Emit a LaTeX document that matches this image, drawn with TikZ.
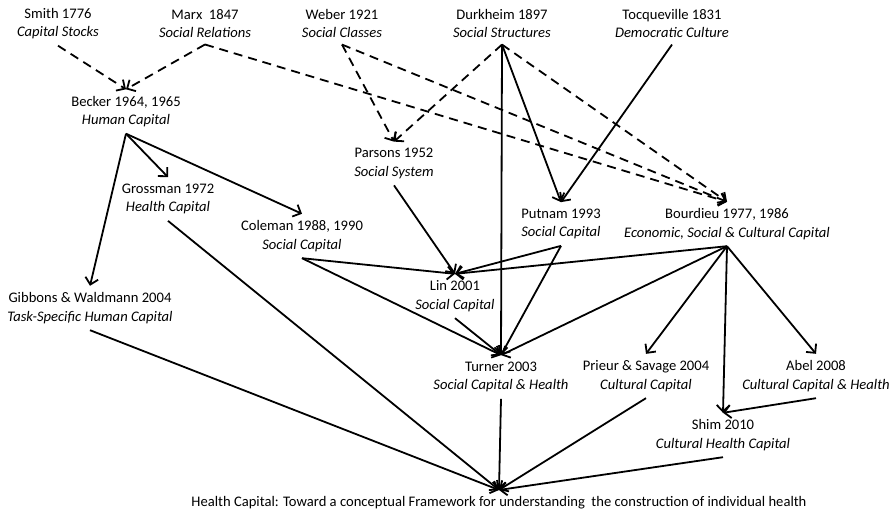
\documentclass[tikz,border=0pt]{standalone}
\usepackage{fontspec}
\setmainfont{Carlito}
\usetikzlibrary{arrows.meta}
\begin{document}
\begin{tikzpicture}[x=1pt,y=-1pt,
  lbl/.style={align=center, inner xsep=2pt, inner ysep=6.5pt, font=\fontsize{14.6}{18.5}\selectfont},
  conn/.style={line width=1.8pt, -{Straight Barb[length=6.5pt,width=13pt]}},
  dconn/.style={conn, dash pattern=on 9pt off 6pt}]
\useasboundingbox (0,0) rectangle (896,513);
\node[lbl] (smith) at (58,23.5) {Smith 1776\\\textit{Capital Stocks}};
\node[lbl] (marx) at (205,23.5) {Marx\ \ 1847\\\textit{Social Relations}};
\node[lbl] (weber) at (342,23.5) {Weber 1921\\\textit{Social Classes}};
\node[lbl] (durk) at (502,23.5) {Durkheim 1897\\\textit{Social Structures}};
\node[lbl] (tocq) at (672,23.5) {Tocqueville 1831\\\textit{Democratic Culture}};
\node[lbl] (becker) at (126,111.5) {Becker 1964, 1965\\\textit{Human Capital}};
\node[lbl] (parsons) at (394,163.5) {Parsons 1952\\\textit{Social System}};
\node[lbl] (gross) at (168,199) {Grossman 1972\\\textit{Health Capital}};
\node[lbl] (coleman) at (302,236) {Coleman 1988, 1990\\\textit{Social Capital}};
\node[lbl] (putnam) at (561,224) {Putnam 1993\\\textit{Social Capital}};
\node[lbl] (bourdieu) at (727,224) {Bourdieu 1977, 1986\\\textit{Economic, Social \& Cultural Capital}};
\node[lbl] (lin) at (455,296) {Lin 2001\\\textit{Social Capital}};
\node[lbl] (gibbons) at (90,308) {Gibbons \& Waldmann 2004\\\textit{Task-Specific Human Capital}};
\node[lbl] (turner) at (501,377) {Turner 2003\\\textit{Social Capital \& Health}};
\node[lbl] (prieur) at (646,376) {Prieur \& Savage 2004\\\textit{Cultural Capital}};
\node[lbl] (abel) at (816,376) {Abel 2008\\\textit{Cultural Capital \& Health}};
\node[lbl] (shim) at (723,435) {Shim 2010\\\textit{Cultural Health Capital}};
\node[lbl] (final) at (499,503) {Health Capital: Toward a conceptual Framework for understanding\ \ the construction of individual health};
% dashed
\draw[dconn] (smith.south) -- (becker.north);
\draw[dconn] (marx.south) -- (becker.north);
\draw[dconn] (marx.south) -- (bourdieu.north);
\draw[dconn] (weber.south) -- (bourdieu.north);
\draw[dconn] (weber.south) -- (parsons.north);
\draw[dconn] (durk.south) -- (parsons.north);
\draw[dconn] (durk.south) -- (bourdieu.north);
% solid
\draw[conn] (durk.south) -- (putnam.north);
\draw[conn] (durk.south) -- (turner.north);
\draw[conn] (tocq.south) -- (putnam.north);
\draw[conn] (becker.south) -- (gross.north);
\draw[conn] (becker.south) -- (coleman.north);
\draw[conn] (becker.south) -- (gibbons.north);
\draw[conn] (coleman.south) -- (lin.north);
\draw[conn] (coleman.south) -- (turner.north);
\draw[conn] (parsons.south) -- (lin.north);
\draw[conn] (putnam.south) -- (lin.north);
\draw[conn] (putnam.south) -- (turner.north);
\draw[conn] (bourdieu.south) -- (lin.north);
\draw[conn] (bourdieu.south) -- (turner.north);
\draw[conn] (bourdieu.south) -- (prieur.north);
\draw[conn] (bourdieu.south) -- (shim.north);
\draw[conn] (bourdieu.south) -- (abel.north);
\draw[conn] (lin.south) -- (turner.north);
\draw[conn] (abel.south) -- (shim.north);
\draw[conn] (gibbons.south) -- (final.north);
\draw[conn] (gross.south) -- (final.north);
\draw[conn] (turner.south) -- (final.north);
\draw[conn] (prieur.south) -- (final.north);
\draw[conn] (shim.south) -- (final.north);
\end{tikzpicture}
\end{document}
